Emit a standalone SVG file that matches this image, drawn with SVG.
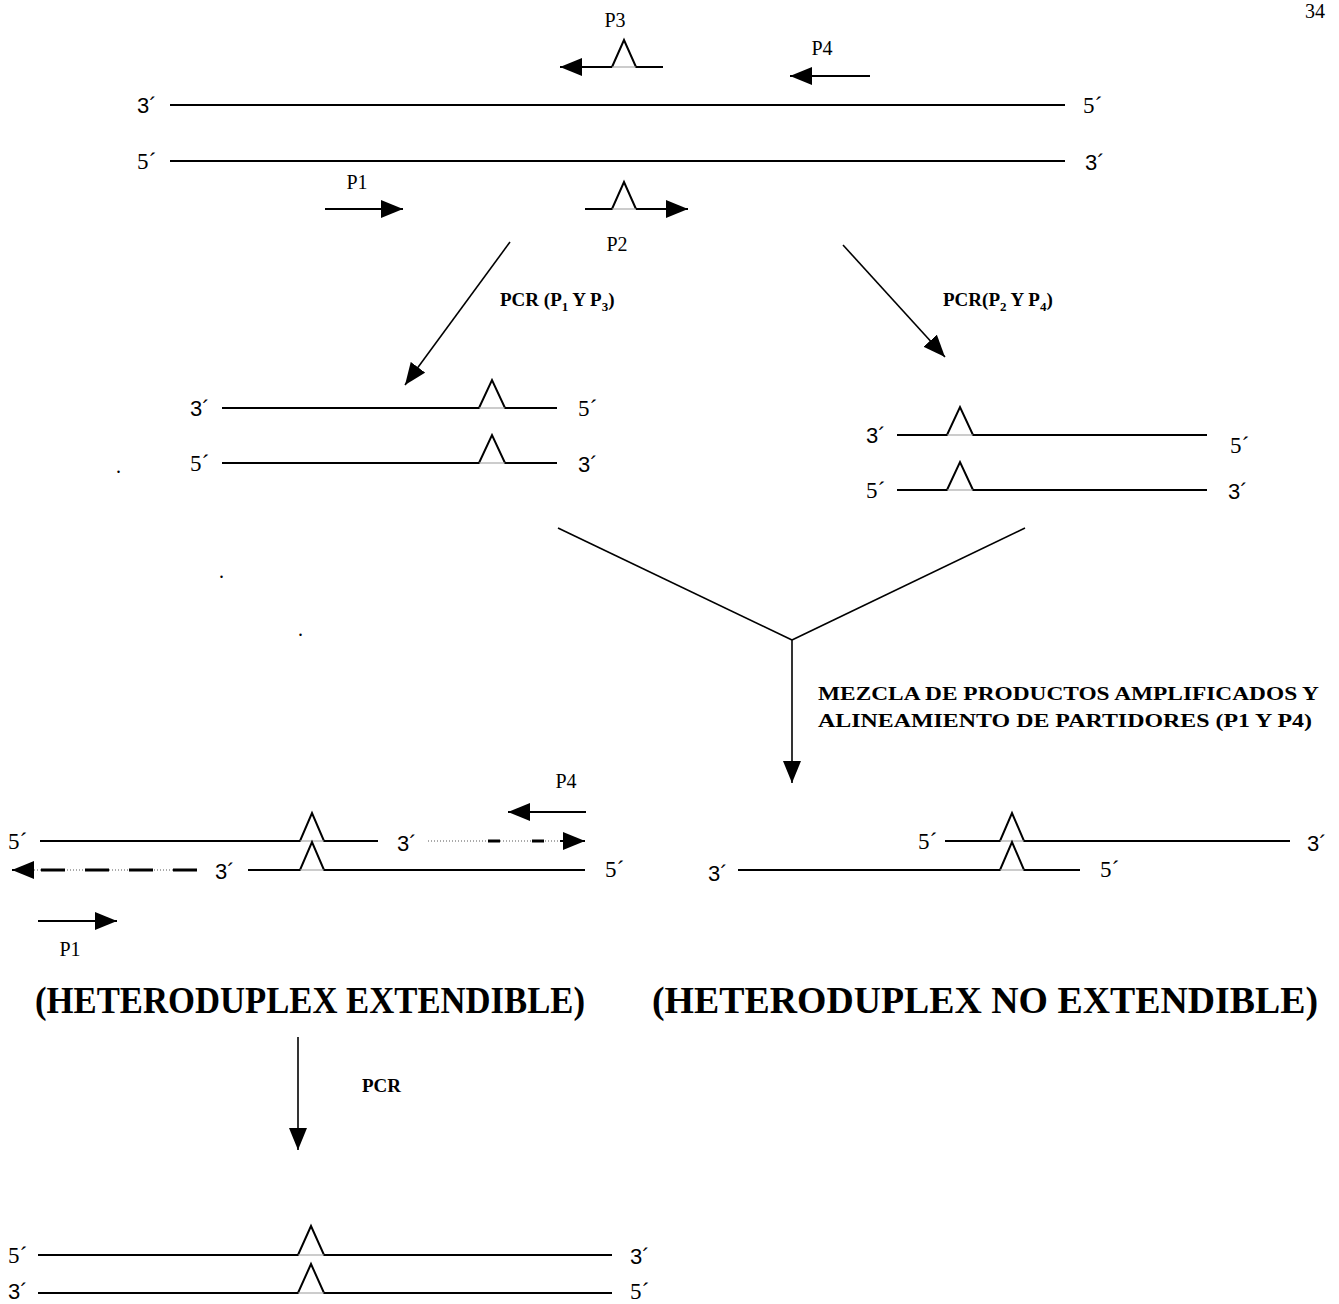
<svg xmlns="http://www.w3.org/2000/svg" width="1339" height="1304" viewBox="0 0 1339 1304">
<style>
.s{fill:none;stroke:#000;stroke-width:2}
.b{fill:none;stroke:#999;stroke-width:1}
.c{fill:none;stroke:#000;stroke-width:1.6}
.sa{font-family:"Liberation Sans",Arial,sans-serif;font-size:22px;fill:#000}
.se{font-family:"Liberation Serif","Times New Roman",serif;font-size:23px;fill:#000}
.p{font-family:"Liberation Serif","Times New Roman",serif;font-size:20px;fill:#000}
.bl{font-family:"Liberation Serif","Times New Roman",serif;font-size:19px;font-weight:bold;fill:#000}
.h{font-family:"Liberation Serif","Times New Roman",serif;font-size:37px;font-weight:bold;fill:#000}
.dg{fill:none;stroke:#aaa;stroke-width:2;stroke-dasharray:1 2}
.dk{fill:none;stroke:#000;stroke-width:3}
</style>
<defs>
<marker id="ah" markerWidth="22" markerHeight="18" refX="22" refY="9" orient="auto" markerUnits="userSpaceOnUse"><path d="M0,0 L22,9 L0,18 z" fill="#000"/></marker>
</defs>
<text class="p" x="1305" y="18" font-size="18">34</text>
<g id="template">
<line class="s" x1="170" y1="105" x2="1065" y2="105"/>
<text class="sa" x="137" y="113">3´</text>
<text class="se" x="1083" y="113">5´</text>
<line class="s" x1="170" y1="161" x2="1065" y2="161"/>
<text class="se" x="137" y="169">5´</text>
<text class="sa" x="1085" y="170">3´</text>
</g>
<g id="p3">
<text class="p" x="615" y="27" text-anchor="middle">P3</text>
<polyline class="s" points="663,67 636,67 624,40 612,67"/>
<line class="s" x1="612" y1="67" x2="560" y2="67" marker-end="url(#ah)"/>
<line class="b" x1="612" y1="67" x2="636" y2="67"/>
</g>
<g id="p4">
<text class="p" x="822" y="55" text-anchor="middle">P4</text>
<line class="s" x1="870" y1="76" x2="790" y2="76" marker-end="url(#ah)"/>
</g>
<g id="p1">
<text class="p" x="357" y="189" text-anchor="middle">P1</text>
<line class="s" x1="325" y1="209" x2="403" y2="209" marker-end="url(#ah)"/>
</g>
<g id="p2">
<polyline class="s" points="585,209 612,209 624,182 636,209"/>
<line class="s" x1="636" y1="209" x2="688" y2="209" marker-end="url(#ah)"/>
<line class="b" x1="612" y1="209" x2="636" y2="209"/>
<text class="p" x="617" y="251" text-anchor="middle">P2</text>
</g>
<g id="connectors">
<line class="c" x1="510" y1="242" x2="405" y2="385" marker-end="url(#ah)"/>
<line class="c" x1="843" y1="245" x2="945" y2="357" marker-end="url(#ah)"/>
<line class="c" x1="558" y1="528" x2="792" y2="640"/>
<line class="c" x1="1025" y1="528" x2="792" y2="640"/>
<line class="c" x1="792" y1="640" x2="792" y2="783" marker-end="url(#ah)"/>
<line class="c" x1="298" y1="1037" x2="298" y2="1150" marker-end="url(#ah)"/>
</g>
<g id="label-pcr13">
<text class="bl" x="500" y="306">PCR (P<tspan font-size="13" dy="5">1</tspan><tspan dy="-5"> Y P</tspan><tspan font-size="13" dy="5">3</tspan><tspan dy="-5">)</tspan></text>
</g>
<g id="label-pcr24">
<text class="bl" x="943" y="306">PCR(P<tspan font-size="13" dy="5">2</tspan><tspan dy="-5"> Y P</tspan><tspan font-size="13" dy="5">4</tspan><tspan dy="-5">)</tspan></text>
</g>
<g id="product-left">
<text class="sa" x="190" y="416">3´</text>
<polyline class="s" points="222,408 479,408 492,380 505,408 557,408"/>
<line class="b" x1="479" y1="408" x2="505" y2="408"/>
<text class="se" x="578" y="416">5´</text>
<text class="se" x="190" y="471">5´</text>
<polyline class="s" points="222,463 479,463 492,435 505,463 557,463"/>
<line class="b" x1="479" y1="463" x2="505" y2="463"/>
<text class="sa" x="578" y="472">3´</text>
<text class="p" x="116" y="473">.</text>
</g>
<g id="product-right">
<text class="sa" x="866" y="443">3´</text>
<polyline class="s" points="897,435 947,435 960,407 973,435 1207,435"/>
<line class="b" x1="947" y1="435" x2="973" y2="435"/>
<text class="se" x="1230" y="453">5´</text>
<text class="se" x="866" y="498">5´</text>
<polyline class="s" points="897,490 947,490 960,462 973,490 1207,490"/>
<line class="b" x1="947" y1="490" x2="973" y2="490"/>
<text class="sa" x="1228" y="499">3´</text>
</g>
<text class="p" x="219" y="578">.</text>
<text class="p" x="298" y="636">.</text>
<g id="label-mezcla">
<text class="bl" x="818" y="700" font-size="22" textLength="501" lengthAdjust="spacingAndGlyphs">MEZCLA DE PRODUCTOS AMPLIFICADOS Y</text>
<text class="bl" x="818" y="727" font-size="22" textLength="494" lengthAdjust="spacingAndGlyphs">ALINEAMIENTO DE PARTIDORES (P1 Y P4)</text>
</g>
<g id="heteroduplex-extendible">
<text class="p" x="566" y="788" text-anchor="middle">P4</text>
<line class="s" x1="586" y1="812" x2="508" y2="812" marker-end="url(#ah)"/>
<text class="se" x="8" y="849">5´</text>
<polyline class="s" points="40,841 300,841 312,813 324,841 378,841"/>
<line class="b" x1="300" y1="841" x2="324" y2="841"/>
<text class="sa" x="397" y="851">3´</text>
<line class="dg" x1="428" y1="841" x2="565" y2="841"/>
<line class="dk" x1="488" y1="841" x2="565" y2="841" stroke-dasharray="12 32"/>
<line class="s" x1="560" y1="841" x2="585" y2="841" stroke-width="0" marker-end="url(#ah)"/>
<line class="dg" x1="197" y1="870" x2="30" y2="870"/>
<line class="dk" x1="197" y1="870" x2="30" y2="870" stroke-dasharray="24 20"/>
<line class="s" x1="30" y1="870" x2="12" y2="870" stroke-width="0" marker-end="url(#ah)"/>
<text class="sa" x="215" y="879">3´</text>
<polyline class="s" points="248,870 300,870 312,842 324,870 585,870"/>
<line class="b" x1="300" y1="870" x2="324" y2="870"/>
<text class="se" x="605" y="877">5´</text>
<line class="s" x1="38" y1="921" x2="117" y2="921" marker-end="url(#ah)"/>
<text class="p" x="70" y="956" text-anchor="middle">P1</text>
<text class="h" x="35" y="1013" textLength="550" lengthAdjust="spacingAndGlyphs">(HETERODUPLEX EXTENDIBLE)</text>
</g>
<g id="heteroduplex-no-extendible">
<text class="se" x="918" y="849">5´</text>
<polyline class="s" points="945,841 1000,841 1012,813 1024,841 1290,841"/>
<line class="b" x1="1000" y1="841" x2="1024" y2="841"/>
<text class="sa" x="1307" y="851">3´</text>
<text class="sa" x="708" y="881">3´</text>
<polyline class="s" points="738,870 1000,870 1012,842 1024,870 1080,870"/>
<line class="b" x1="1000" y1="870" x2="1024" y2="870"/>
<text class="se" x="1100" y="877">5´</text>
<text class="h" x="652" y="1013" textLength="666" lengthAdjust="spacingAndGlyphs">(HETERODUPLEX NO EXTENDIBLE)</text>
</g>
<g id="label-pcr">
<text class="bl" x="362" y="1092">PCR</text>
</g>
<g id="product-final">
<text class="se" x="8" y="1263">5´</text>
<polyline class="s" points="38,1255 298,1255 311,1226 324,1255 612,1255"/>
<line class="b" x1="298" y1="1255" x2="324" y2="1255"/>
<text class="sa" x="630" y="1264">3´</text>
<text class="sa" x="8" y="1299">3´</text>
<polyline class="s" points="38,1293 298,1293 311,1264 324,1293 612,1293"/>
<line class="b" x1="298" y1="1293" x2="324" y2="1293"/>
<text class="se" x="630" y="1299">5´</text>
</g>
</svg>
